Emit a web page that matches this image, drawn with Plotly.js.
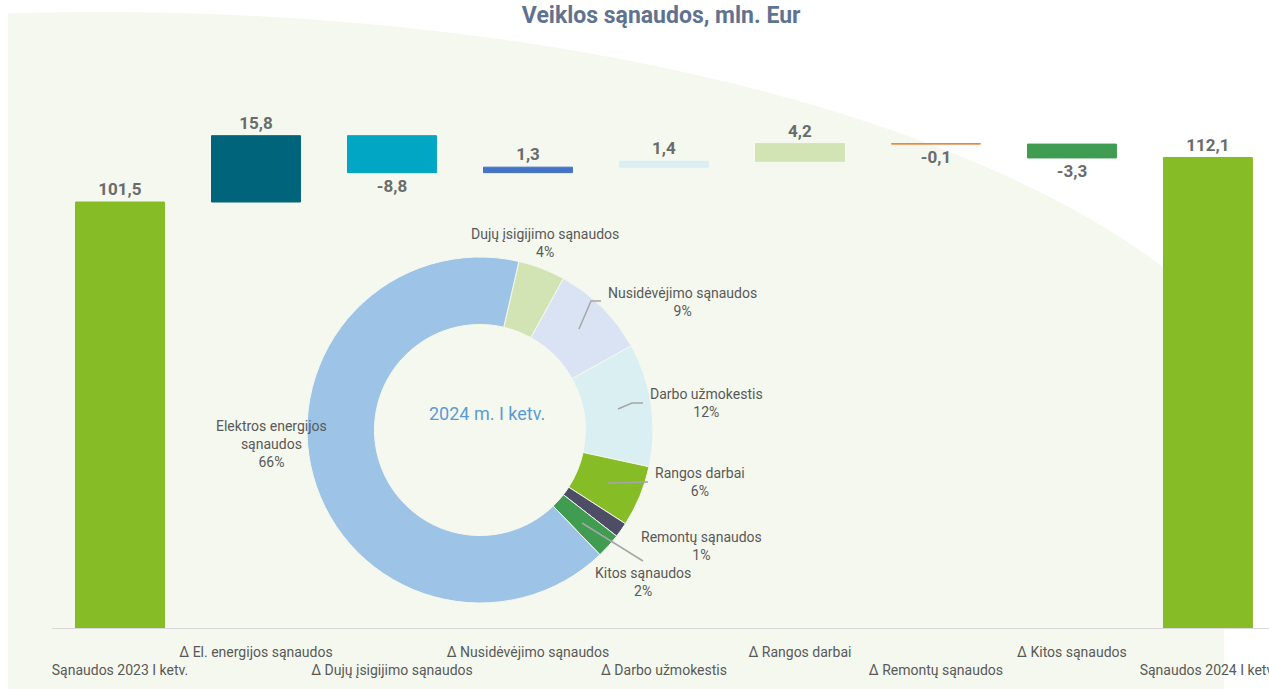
<!DOCTYPE html>
<html>
<head>
<meta charset="utf-8">
<script src="https://cdn.plot.ly/plotly-3.0.1.min.js"></script>
<style>html,body{margin:0;padding:0;background:#fff;}#chart{width:1269px;height:690px;}</style>
</head>
<body>
<div id="chart"></div>
<script>
// ---- Data ----
const categories = ['Sąnaudos 2023 I ketv.', 'Δ El. energijos sąnaudos', 'Δ Dujų įsigijimo sąnaudos', 'Δ Nusidėvėjimo sąnaudos', 'Δ Darbo užmokestis', 'Δ Rangos darbai', 'Δ Remontų sąnaudos', 'Δ Kitos sąnaudos', 'Sąnaudos 2024 I ketv.'];
const changes = [101.5, 15.8, -8.8, 1.3, 1.4, 4.2, -0.1, -3.3, 112.1];
const measures = ['absolute', 'relative', 'relative', 'relative', 'relative', 'relative', 'relative', 'relative', 'absolute'];

const pieLabels = ['Dujų įsigijimo sąnaudos', 'Nusidėvėjimo sąnaudos', 'Darbo užmokestis', 'Rangos darbai', 'Remontų sąnaudos', 'Kitos sąnaudos', 'Elektros energijos sąnaudos'];
const pieValues = [4.4, 8.9, 11.5, 5.7, 1.4, 2.3, 65.8];
const pieCenterText = '2024 m. I ketv.';
const titleText = 'Veiklos sąnaudos, mln. Eur';

// ---- Styles ----
const barColors = ['#86BC25', '#00657A', '#00A6C4', '#4472C4', '#DAEEF3', '#D2E4B3', '#ED7D31', '#3F9C50', '#86BC25'];
const pieColors = ['#D3E4B4', '#DAE3F3', '#DAEFF1', '#86BC25', '#4D4D66', '#3F9C50', '#9DC3E6'];
const FONT = 'Roboto, "Liberation Sans", sans-serif';
const GRAY = '#595959';

// plot area in pixels
const L = 52, R = 1269, T = 40, B = 628;
const px = X => (X - L) / (R - L);
const py = Y => (B - Y) / (B - T);

// ---- Waterfall computation ----
let run = 0;
const bases = [], heights = [];
changes.forEach((v, i) => {
  if (measures[i] === 'absolute') { bases.push(0); heights.push(v); run = v; }
  else { bases.push(run); heights.push(v); run += v; }
});
const fmt = v => v.toFixed(1).replace('.', ',');
const tickText = categories.map((c, i) => (i % 2 === 0 ? '<br>' + c : c));

const barTrace = {
  type: 'bar',
  x: categories,
  y: heights,
  base: bases,
  marker: { color: barColors, line: { color: barColors, width: 1 } },
  text: changes.map(fmt),
  textposition: 'outside',
  textfont: { family: FONT, size: 17, color: '#6B6B6B', weight: 700 },
  cliponaxis: false,
  hoverinfo: 'skip',
  showlegend: false
};

const pieTrace = {
  type: 'pie',
  labels: pieLabels,
  values: pieValues,
  sort: false,
  direction: 'clockwise',
  rotation: 13,
  hole: 0.61,
  textinfo: 'none',
  marker: { colors: pieColors, line: { color: '#F5F8EE', width: 1 } },
  domain: { x: [px(307), px(653)], y: [py(603), py(257)] },
  hoverinfo: 'skip',
  showlegend: false
};

// pie label placement (pixel centres)
const pieLabelPos = [
  { X: 545, Y: 243, wrap: false },
  { X: 682, Y: 302, wrap: false },
  { X: 706, Y: 403, wrap: false },
  { X: 700, Y: 482, wrap: false },
  { X: 701, Y: 546, wrap: false },
  { X: 643, Y: 582, wrap: false },
  { X: 271, Y: 444, wrap: true }
];
const total = pieValues.reduce((a, b) => a + b, 0);
const annotations = pieLabels.map((lab, i) => {
  const p = pieLabelPos[i];
  const name = p.wrap ? lab.replace(' sąnaudos', '<br>sąnaudos') : lab;
  return {
    xref: 'paper', yref: 'paper', x: px(p.X), y: py(p.Y),
    xanchor: 'center', yanchor: 'middle', showarrow: false, align: 'center',
    text: name + '<br>' + Math.round(pieValues[i] / total * 100) + '%',
    font: { family: FONT, size: 14, color: GRAY }
  };
});
annotations.push({
  xref: 'paper', yref: 'paper', x: px(487), y: py(413), xanchor: 'center', yanchor: 'middle',
  showarrow: false, text: pieCenterText, font: { family: FONT, size: 18, color: '#5B9BD5' }
});

// background light region (rectangle with elliptical top-right corner)
let path = 'M ' + px(8) + ',' + py(689) + ' L ' + px(8) + ',' + py(13);
for (let X = 8; X <= 1224; X += 8) {
  const t = (X - 100) / 1200;
  const Y = 488 - 476 * Math.sqrt(Math.max(0, 1 - t * t));
  path += ' L ' + px(X) + ',' + py(Y);
}
path += ' L ' + px(1224) + ',' + py(689) + ' Z';

const lineStyle = { color: '#A6A6A6', width: 1.5 };
const leader = pts => ({
  type: 'path', xref: 'paper', yref: 'paper', layer: 'above',
  path: 'M ' + pts.map(p => px(p[0]) + ',' + py(p[1])).join(' L '),
  line: lineStyle
});
const shapes = [
  { type: 'path', xref: 'paper', yref: 'paper', layer: 'below', path: path, fillcolor: '#F5F8EE', line: { width: 0 } },
  leader([[579, 329], [591, 301], [601, 301]]),
  leader([[618, 409], [632, 403], [643, 403]]),
  leader([[608, 483], [648, 482]]),
  leader([[582, 523], [643, 561]])
];

const layout = {
  width: 1269, height: 690,
  margin: { l: L, r: 1269 - R, t: T, b: 690 - B, pad: 0 },
  paper_bgcolor: '#FFFFFF',
  plot_bgcolor: 'rgba(0,0,0,0)',
  font: { family: FONT, color: GRAY },
  title: {
    text: titleText, x: 0.521, xref: 'container', xanchor: 'center',
    y: 0.979, yref: 'container', yanchor: 'middle',
    font: { family: FONT, size: 23, color: '#5F7391', weight: 700 }
  },
  bargap: 0.346,
  xaxis: {
    type: 'category', range: [-0.5, 8.449], tickvals: categories, ticktext: tickText,
    showline: true, linecolor: '#D9D9D9', linewidth: 1, showgrid: false, zeroline: false,
    ticks: '', ticklabelstandoff: 11, tickangle: 0,
    tickfont: { family: FONT, size: 14, color: GRAY }, fixedrange: true
  },
  yaxis: { range: [0, 140.1], visible: false, showgrid: false, zeroline: false, fixedrange: true },
  shapes: shapes,
  annotations: annotations
};

Plotly.newPlot('chart', [barTrace, pieTrace], layout, { displayModeBar: false, staticPlot: true });
</script>
</body>
</html>
